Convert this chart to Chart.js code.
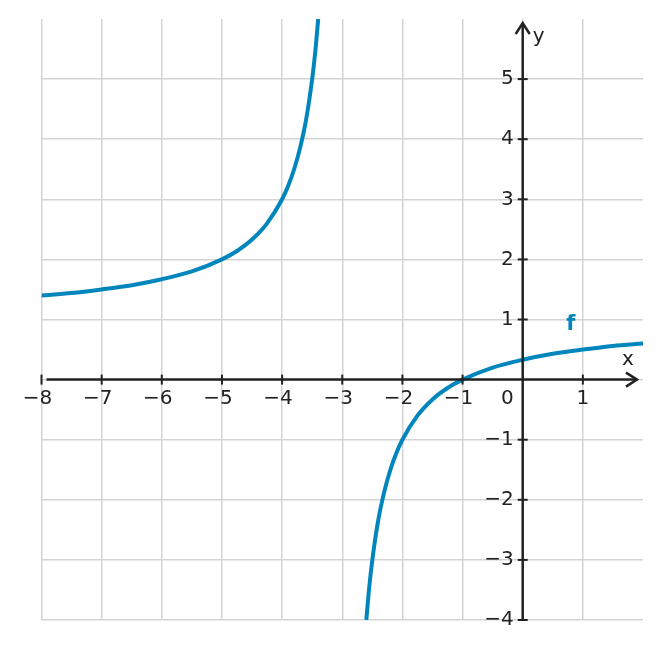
<!DOCTYPE html>
<html>
<head>
<meta charset="utf-8">
<script src="https://cdn.jsdelivr.net/npm/chart.js@4"></script>
<style>
  body { margin: 0; background: #fff; }
  #wrap { width: 661px; height: 648px; }
</style>
</head>
<body>
<div id="wrap"><canvas id="myChart"></canvas></div>
<script>
// Left branch of f
const leftX = [-8, -7.5, -7, -6.5, -6, -5.5, -5, -4.75, -4.5, -4.25, -4, -3.9, -3.8, -3.7, -3.6, -3.5, -3.45, -3.4];
const leftY = [1.4, 1.44, 1.5, 1.57, 1.67, 1.8, 2, 2.14, 2.33, 2.6, 3, 3.22, 3.5, 3.86, 4.33, 5, 5.44, 6];

// Right branch of f
const rightX = [-2.6, -2.55, -2.5, -2.4, -2.3, -2.2, -2.1, -2, -1.75, -1.5, -1.25, -1, -0.5, 0, 0.5, 1, 1.5, 2];
const rightY = [-4, -3.44, -3, -2.33, -1.86, -1.5, -1.22, -1, -0.6, -0.33, -0.14, 0, 0.2, 0.33, 0.43, 0.5, 0.56, 0.6];

// Tick labels
const xTicks = [-8, -7, -6, -5, -4, -3, -2, -1, 1];
const yTicks = [-4, -3, -2, -1, 1, 2, 3, 4, 5];

const curveColor = '#0086BD';
const axisColor = '#222222';
const gridColor = '#d4d4d4';
const font = '20px "DejaVu Sans", sans-serif';

const toPoints = (xs, ys) => xs.map((x, i) => ({ x: x, y: ys[i] }));

// Draws the axes through the origin, with arrows, ticks and labels
const axesPlugin = {
  id: 'axesPlugin',
  afterDatasetsDraw(chart) {
    const ctx = chart.ctx;
    const xs = chart.scales.x;
    const ys = chart.scales.y;
    const area = chart.chartArea;
    const x0 = xs.getPixelForValue(0);
    const y0 = ys.getPixelForValue(0);

    ctx.save();
    ctx.strokeStyle = axisColor;
    ctx.fillStyle = axisColor;
    ctx.lineWidth = 2.5;

    // x axis
    ctx.beginPath();
    ctx.moveTo(xs.getPixelForValue(-8) + 5, y0);
    ctx.lineTo(area.right - 6, y0);
    ctx.stroke();
    // y axis
    ctx.beginPath();
    ctx.moveTo(x0, area.bottom);
    ctx.lineTo(x0, area.top + 4);
    ctx.stroke();

    // arrows
    ctx.beginPath();
    ctx.moveTo(area.right - 17, y0 - 7);
    ctx.lineTo(area.right - 6, y0);
    ctx.lineTo(area.right - 17, y0 + 7);
    ctx.stroke();
    ctx.beginPath();
    ctx.moveTo(x0 - 7, area.top + 15);
    ctx.lineTo(x0, area.top + 4);
    ctx.lineTo(x0 + 7, area.top + 15);
    ctx.stroke();

    // ticks
    ctx.lineWidth = 2;
    ctx.font = font;
    ctx.textAlign = 'center';
    ctx.textBaseline = 'middle';
    xTicks.forEach(v => {
      const px = xs.getPixelForValue(v);
      ctx.beginPath();
      ctx.moveTo(px, y0 - 5);
      ctx.lineTo(px, y0 + 5);
      ctx.stroke();
      ctx.fillText(v < 0 ? '\u2212' + Math.abs(v) : String(v), px - (v < 0 ? 4 : 0), y0 + 19);
    });
    ctx.textAlign = 'right';
    yTicks.forEach(v => {
      const py = ys.getPixelForValue(v);
      ctx.beginPath();
      ctx.moveTo(x0 - 5, py);
      ctx.lineTo(x0 + 5, py);
      ctx.stroke();
      ctx.fillText(v < 0 ? '\u2212' + Math.abs(v) : String(v), x0 - 9, py);
    });
    ctx.fillText('0', x0 - 9, y0 + 19);

    // axis names
    ctx.textAlign = 'center';
    ctx.fillText('x', area.right - 15, y0 - 20);
    ctx.fillText('y', x0 + 16, area.top + 18);

    // function name
    ctx.fillStyle = curveColor;
    ctx.font = 'bold 21px "DejaVu Sans", sans-serif';
    ctx.fillText('f', xs.getPixelForValue(0.8), ys.getPixelForValue(0.92));
    ctx.restore();
  }
};

const myChart = document.getElementById('myChart');

let graph = new Chart(myChart, {
  type: 'scatter',
  data: {
    datasets: [
      {
        data: toPoints(leftX, leftY),
        showLine: true,
        borderColor: curveColor,
        borderWidth: 4,
        pointRadius: 0,
        cubicInterpolationMode: 'monotone'
      },
      {
        data: toPoints(rightX, rightY),
        showLine: true,
        borderColor: curveColor,
        borderWidth: 4,
        pointRadius: 0,
        cubicInterpolationMode: 'monotone'
      }
    ]
  },
  options: {
    responsive: true,
    maintainAspectRatio: false,
    animation: false,
    layout: { padding: { left: 41.5, right: 18, top: 19, bottom: 28 } },
    plugins: {
      legend: { display: false },
      tooltip: { enabled: false }
    },
    scales: {
      x: {
        type: 'linear',
        min: -8,
        max: 2,
        ticks: { display: false, stepSize: 1 },
        border: { display: false },
        // no line at the right edge
        grid: { color: c => c.tick && c.tick.value === 2 ? 'rgba(0,0,0,0)' : gridColor, lineWidth: 1.5, drawTicks: false }
      },
      y: {
        type: 'linear',
        min: -4,
        max: 6,
        ticks: { display: false, stepSize: 1 },
        border: { display: false },
        // no line at the top edge
        grid: { color: c => c.tick && c.tick.value === 6 ? 'rgba(0,0,0,0)' : gridColor, lineWidth: 1.5, drawTicks: false }
      }
    }
  },
  plugins: [axesPlugin]
});
</script>
</body>
</html>
